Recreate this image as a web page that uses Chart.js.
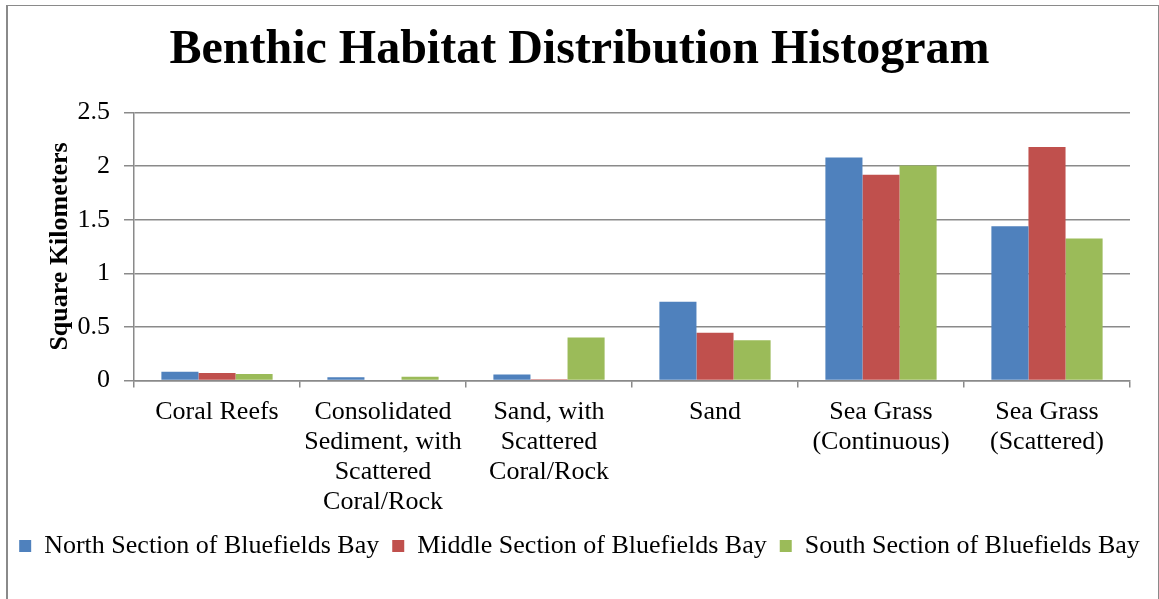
<!DOCTYPE html>
<html>
<head>
<meta charset="utf-8">
<script src="https://cdn.jsdelivr.net/npm/chart.js@4"></script>
<style>
  html, body { margin: 0; padding: 0; background: #fff; overflow: hidden; }
  #frame { position: absolute; left: 6px; top: 5px; width: 1150px; height: 700px;
           border-left: 2px solid #8a8a8a; border-top: 1px solid #8a8a8a; border-right: 1px solid #8a8a8a; }
  #wrap { position: absolute; left: 0; top: 0; width: 1159px; height: 599px; }
</style>
</head>
<body>
<div id="frame"></div>
<div id="wrap"><canvas id="c" width="1159" height="599"></canvas></div>
<script>
const categories = [
  ["Coral Reefs"],
  ["Consolidated", "Sediment, with", "Scattered", "Coral/Rock"],
  ["Sand, with", "Scattered", "Coral/Rock"],
  ["Sand"],
  ["Sea Grass", "(Continuous)"],
  ["Sea Grass", "(Scattered)"]
];
const seriesNames = ["North Section of Bluefields Bay", "Middle Section of Bluefields Bay", "South Section of Bluefields Bay"];
const north  = [0.08, 0.03, 0.055, 0.735, 2.08, 1.44];
const middle = [0.07, 0.0, 0.01, 0.445, 1.92, 2.18];
const south  = [0.06, 0.035, 0.40, 0.375, 2.005, 1.325];
const yTicks = { min: 0, max: 2.5, step: 0.5 };

const FONT = "'Liberation Serif', 'Times New Roman', serif";
const GRID = '#8a8a8a';

new Chart(document.getElementById('c'), {
  type: 'bar',
  data: {
    labels: categories,
    datasets: [
      { label: seriesNames[0], data: north,  backgroundColor: '#4F81BD' },
      { label: seriesNames[1], data: middle, backgroundColor: '#C0504D' },
      { label: seriesNames[2], data: south,  backgroundColor: '#9BBB59' }
    ]
  },
  options: {
    responsive: false,
    animation: false,
    devicePixelRatio: 1,
    categoryPercentage: 0.67,
    barPercentage: 1.0,
    layout: { padding: { left: 0, right: 0, top: 0, bottom: 30 } },
    plugins: {
      title: {
        display: true,
        text: 'Benthic Habitat Distribution Histogram',
        color: '#000',
        font: { family: FONT, size: 48, weight: 'bold' },
        padding: { top: 22, bottom: 33 }
      },
      legend: {
        position: 'bottom',
        labels: {
          color: '#000',
          font: { family: FONT, size: 26 },
          boxWidth: 12, boxHeight: 12,
          padding: 13
        }
      },
      tooltip: { enabled: false }
    },
    scales: {
      x: {
        afterFit: (scale) => { scale.height = scale.height - 7; },
        grid: { display: true, drawOnChartArea: false, drawTicks: true, tickLength: 7, color: GRID, lineWidth: 1.5 },
        border: { display: true, color: GRID, width: 1.5 },
        ticks: { color: '#000', font: { family: FONT, size: 26, lineHeight: 1.15 }, maxRotation: 0, autoSkip: false, padding: 10 }
      },
      y: {
        min: yTicks.min, max: yTicks.max,
        afterFit: (scale) => { scale.width = 134; },
        grid: { color: GRID, lineWidth: 1.5, tickLength: 10 },
        border: { display: true, color: GRID, width: 1.5 },
        ticks: { stepSize: yTicks.step, color: '#000', font: { family: FONT, size: 26 }, padding: 14,
                 callback: v => String(v) },
        title: { display: true, text: 'Square Kilometers', color: '#000',
                 font: { family: FONT, size: 26, weight: 'bold' }, padding: { top: 45, bottom: 3 } }
      },
      yRightSpace: {
        type: 'linear',
        position: 'right',
        display: true,
        min: 0, max: 1,
        afterFit: (scale) => { scale.width = 29; },
        grid: { display: false, drawTicks: false },
        border: { display: false },
        ticks: { display: false }
      }
    }
  }
});
</script>
</body>
</html>
